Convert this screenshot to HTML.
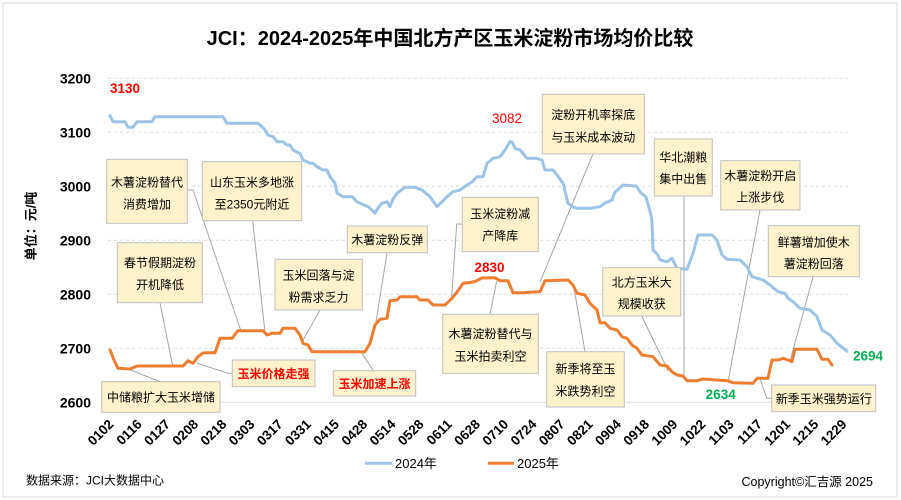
<!DOCTYPE html>
<html><head><meta charset="utf-8"><style>
html,body{margin:0;padding:0;background:#fff;}
svg{display:block;}
text{font-family:"Liberation Sans","Noto Sans CJK SC",sans-serif;}
.ann{font-size:12px;fill:#000;text-anchor:middle;}
.box{fill:#fff2cc;stroke:#bfbfbf;stroke-width:1;}
.ld{stroke:#a6a6a6;stroke-width:1;fill:none;}
.yt{font-size:14px;font-weight:bold;text-anchor:end;fill:#000;}
.xt{font-size:13.5px;font-weight:bold;text-anchor:end;fill:#000;}
</style></head><body>
<svg width="901" height="500" viewBox="0 0 901 500" xmlns="http://www.w3.org/2000/svg">
<rect x="0" y="0" width="901" height="500" fill="#fff"/>
<rect x="3" y="3" width="894" height="494" fill="#fff" stroke="#d9d9d9" stroke-width="1"/>
<text x="450" y="45" font-size="20" font-weight="bold" text-anchor="middle" fill="#000">JCI：2024-2025年中国北方产区玉米淀粉市场均价比较</text>
<g stroke="#d9d9d9" stroke-width="1" stroke-dasharray="3,3">
<line x1="108" y1="78.3" x2="848" y2="78.3"/>
<line x1="108" y1="132.3" x2="848" y2="132.3"/>
<line x1="108" y1="186.3" x2="848" y2="186.3"/>
<line x1="108" y1="240.3" x2="848" y2="240.3"/>
<line x1="108" y1="294.3" x2="848" y2="294.3"/>
<line x1="108" y1="348.3" x2="848" y2="348.3"/>
</g>
<line x1="108" y1="402.3" x2="848" y2="402.3" stroke="#d9d9d9" stroke-width="1"/>
<g>
<text class="yt" x="91" y="83.5">3200</text>
<text class="yt" x="91" y="137.5">3100</text>
<text class="yt" x="91" y="191.5">3000</text>
<text class="yt" x="91" y="245.5">2900</text>
<text class="yt" x="91" y="299.5">2800</text>
<text class="yt" x="91" y="353.5">2700</text>
<text class="yt" x="91" y="407.5">2600</text>
</g>
<text x="0" y="0" font-size="13" font-weight="bold" text-anchor="middle" transform="translate(35.5,226) rotate(-90)">单位：元/吨</text>
<g>
<text class="xt" transform="translate(114.5,425) rotate(-45)">0102</text>
<text class="xt" transform="translate(142.7,425) rotate(-45)">0116</text>
<text class="xt" transform="translate(170.9,425) rotate(-45)">0127</text>
<text class="xt" transform="translate(199.1,425) rotate(-45)">0208</text>
<text class="xt" transform="translate(227.3,425) rotate(-45)">0218</text>
<text class="xt" transform="translate(255.5,425) rotate(-45)">0303</text>
<text class="xt" transform="translate(283.6,425) rotate(-45)">0317</text>
<text class="xt" transform="translate(311.8,425) rotate(-45)">0331</text>
<text class="xt" transform="translate(340,425) rotate(-45)">0415</text>
<text class="xt" transform="translate(368.2,425) rotate(-45)">0428</text>
<text class="xt" transform="translate(396.4,425) rotate(-45)">0514</text>
<text class="xt" transform="translate(424.6,425) rotate(-45)">0528</text>
<text class="xt" transform="translate(452.8,425) rotate(-45)">0611</text>
<text class="xt" transform="translate(481,425) rotate(-45)">0628</text>
<text class="xt" transform="translate(509.2,425) rotate(-45)">0710</text>
<text class="xt" transform="translate(537.4,425) rotate(-45)">0724</text>
<text class="xt" transform="translate(565.6,425) rotate(-45)">0807</text>
<text class="xt" transform="translate(593.7,425) rotate(-45)">0821</text>
<text class="xt" transform="translate(621.9,425) rotate(-45)">0904</text>
<text class="xt" transform="translate(650.1,425) rotate(-45)">0918</text>
<text class="xt" transform="translate(678.3,425) rotate(-45)">1009</text>
<text class="xt" transform="translate(706.5,425) rotate(-45)">1022</text>
<text class="xt" transform="translate(734.7,425) rotate(-45)">1103</text>
<text class="xt" transform="translate(762.9,425) rotate(-45)">1117</text>
<text class="xt" transform="translate(791.1,425) rotate(-45)">1201</text>
<text class="xt" transform="translate(819.3,425) rotate(-45)">1215</text>
<text class="xt" transform="translate(847.5,425) rotate(-45)">1229</text>
</g>
<g class="ld">
<polyline points="187.3,190 193,190 241,331"/>
<polyline points="252.7,221 265,332"/>
<polyline points="160,303 172.7,366"/>
<polyline points="160,381.7 128,369"/>
<polyline points="232,373.3 228,373.3 196.7,363"/>
<polyline points="320,310 302,342"/>
<polyline points="387,253 376,322"/>
<polyline points="373.3,370.7 361.7,353"/>
<polyline points="462.3,224 456.7,224 451.7,297"/>
<polyline points="490,314.3 496.7,281"/>
<polyline points="593,154 540,282"/>
<polyline points="684,196 684,377"/>
<polyline points="760,210 728,382"/>
<polyline points="813,277 790,361"/>
<polyline points="771.7,398.3 766.7,398.3 760,378.3"/>
<polyline points="641.7,316 668.3,371"/>
<polyline points="585,351.7 573.3,284"/>
</g>
<polyline fill="none" stroke="#9dc3e6" stroke-width="3" stroke-linejoin="round" stroke-linecap="round" points="110,115.7 113,121.7 125,121.7 128,127.3 133,127.3 137,121.7 152,121.7 155,116.7 223,116.7 227,123.3 258,123.3 262,126.7 265,130 268,135 273,136.7 277,141.7 283,141.7 287,145 290,145 293,150 300,153.5 303,160 307,161.7 310,163.3 313,163.3 317,166.7 320,168.3 323,170 327,170 330,176.7 335,183.3 337,193 343,196.7 352,196.7 357,201.7 368,206.7 372,210 375,213.3 378,208 382,203.3 387,201.7 390,206.7 393,199 397,193.3 405,187.3 415,187.3 422,190 430,196.7 437,206.7 447,196.7 453,191.7 460,190 467,185 472,182 477,176.7 483,176.7 487,163.3 493,158.3 500,156.7 505,150 510,141.7 512,141.7 515,148.3 520,150 527,158.3 537,158.3 542,160 545,170 553,170 557,175 563,183.3 566,195 568,203.3 573,207 577,208.3 590,208.3 600,206.7 605,203 612,200 615,192 620,188 623,185 636,186 641,193 646,197 649,208 651,215 652,222 653,250 658,255 660,260 667,261.7 672,258.3 677,268.3 687,269.3 693,253.3 698,235 712,235 717,240 722,255 727,259.3 740,260 747,266.7 752,276.7 763,280 770,285 778,291.7 785,293.3 788,298.3 793,301.7 800,308.3 810,310 817,316.7 822,330 830,335 837,343.3 847,351.2"/>
<polyline fill="none" stroke="#ed7d31" stroke-width="3" stroke-linejoin="round" stroke-linecap="round" points="110,350 114,360 118,368.3 130,369 137,366 183,366 188,360.7 193,363.3 198,356.7 203,353 207,352.7 215,352.7 220,338.3 232,338.3 238,330.7 263,330.7 267,335 272,333.3 280,333.3 283,328.3 295,328.3 300,335 303,343.3 308,345 312,351.7 365,351.7 370,343.3 375,325 380,319.3 387,318.3 390,300.7 397,300 400,296.7 417,296.7 420,300 428,300 433,305 445,305 452,298.3 458,290.7 463,283.3 470,282.5 475,281.5 482,278 495,277.8 500,280.7 508,280.7 513,292.7 523,292.7 538,291.7 540,291.7 545,280.7 568,280 573,285 577,293.3 585,295 590,303.3 597,310 600,322.7 605,322.7 610,328.3 617,330 622,336.7 627,338.3 632,345 637,348.3 642,355 653,356.7 660,365 667,366 672,371.7 677,375 683,376 687,380.7 697,380.7 703,379 727,380.7 733,382.7 753,383.3 757,378.3 768,378.3 772,360 778,360 783,358.3 788,360 792,361.7 795,349.3 817,349.3 822,359.3 828,359.3 832,365"/>
<g>
<rect class="box" x="106.7" y="159.3" width="80.6" height="64"/>
<text class="ann" x="147" y="186.5">木薯淀粉替代</text>
<text class="ann" x="147" y="208.5">消费增加</text>

<rect class="box" x="202.3" y="161.7" width="99.4" height="59"/>
<text class="ann" x="252" y="186.5">山东玉米多地涨</text>
<text class="ann" x="252" y="208.5">至2350元附近</text>

<rect class="box" x="117.3" y="242.7" width="85" height="60"/>
<text class="ann" x="160" y="267">春节假期淀粉</text>
<text class="ann" x="160" y="289">开机降低</text>

<rect class="box" x="101.7" y="381.7" width="118.3" height="30.6"/>
<text class="ann" x="161" y="401.5">中储粮扩大玉米增储</text>

<rect class="box" x="232.3" y="360" width="82.7" height="26.7"/>
<text class="ann" x="273.5" y="378" fill="#ff0000" font-weight="bold" style="fill:#ff0000">玉米价格走强</text>

<rect class="box" x="275" y="259.3" width="87.3" height="50.7"/>
<text class="ann" x="318.5" y="279.5">玉米回落与淀</text>
<text class="ann" x="318.5" y="301.5">粉需求乏力</text>

<rect class="box" x="347.3" y="226" width="80" height="26.7"/>
<text class="ann" x="387.3" y="244">木薯淀粉反弹</text>

<rect class="box" x="333.3" y="370.7" width="82.4" height="25.3"/>
<text class="ann" x="374.5" y="388" style="fill:#ff0000" font-weight="bold">玉米加速上涨</text>

<rect class="box" x="462.3" y="197.3" width="76" height="54.4"/>
<text class="ann" x="500.3" y="218">玉米淀粉减</text>
<text class="ann" x="500.3" y="240">产降库</text>

<rect class="box" x="442.7" y="314.3" width="95.6" height="59"/>
<text class="ann" x="490.5" y="338">木薯淀粉替代与</text>
<text class="ann" x="490.5" y="360.5">玉米拍卖利空</text>

<rect class="box" x="542.3" y="94.3" width="102" height="59.7"/>
<text class="ann" x="593.3" y="119">淀粉开机率探底</text>
<text class="ann" x="593.3" y="141.5">与玉米成本波动</text>

<rect class="box" x="654.3" y="139" width="58" height="57"/>
<text class="ann" x="683.3" y="161.5">华北潮粮</text>
<text class="ann" x="683.3" y="183">集中出售</text>

<rect class="box" x="720.7" y="160.7" width="79.3" height="49.3"/>
<text class="ann" x="760.3" y="180">木薯淀粉开启</text>
<text class="ann" x="760.3" y="201.5">上涨步伐</text>

<rect class="box" x="768.3" y="225.7" width="91" height="51"/>
<text class="ann" x="813.8" y="246.5">鲜薯增加使木</text>
<text class="ann" x="813.8" y="268">薯淀粉回落</text>

<rect class="box" x="771.7" y="385" width="104" height="26.7"/>
<text class="ann" x="823.7" y="403">新季玉米强势运行</text>

<rect class="box" x="602.7" y="267.7" width="78" height="48.3"/>
<text class="ann" x="641.7" y="286.5">北方玉米大</text>
<text class="ann" x="641.7" y="308">规模收获</text>

<rect class="box" x="546.7" y="351.7" width="77.6" height="55.3"/>
<text class="ann" x="585.5" y="373">新季将至玉</text>
<text class="ann" x="585.5" y="395.5">米跌势利空</text>
</g>
<text x="110" y="93" font-size="13.5" font-weight="bold" fill="#ff0000">3130</text>
<text x="507" y="123" font-size="13.5" fill="#ff0000" text-anchor="middle">3082</text>
<text x="489.5" y="272" font-size="13.5" font-weight="bold" fill="#ff0000" text-anchor="middle">2830</text>
<text x="720.7" y="399" font-size="13.5" font-weight="bold" fill="#00b050" text-anchor="middle">2634</text>
<text x="868" y="360.5" font-size="13.5" font-weight="bold" fill="#00b050" text-anchor="middle">2694</text>
<line x1="365" y1="463.3" x2="392" y2="463.3" stroke="#9dc3e6" stroke-width="3"/>
<text x="395" y="468" font-size="13" fill="#000">2024年</text>
<line x1="488" y1="463.3" x2="514" y2="463.3" stroke="#ed7d31" stroke-width="3"/>
<text x="517" y="468" font-size="13" fill="#000">2025年</text>
<text x="26" y="484.5" font-size="12" fill="#000">数据来源：JCI大数据中心</text>
<text x="873" y="486" font-size="12.5" fill="#000" text-anchor="end">Copyright©汇吉源 2025</text>
</svg>
</body></html>
